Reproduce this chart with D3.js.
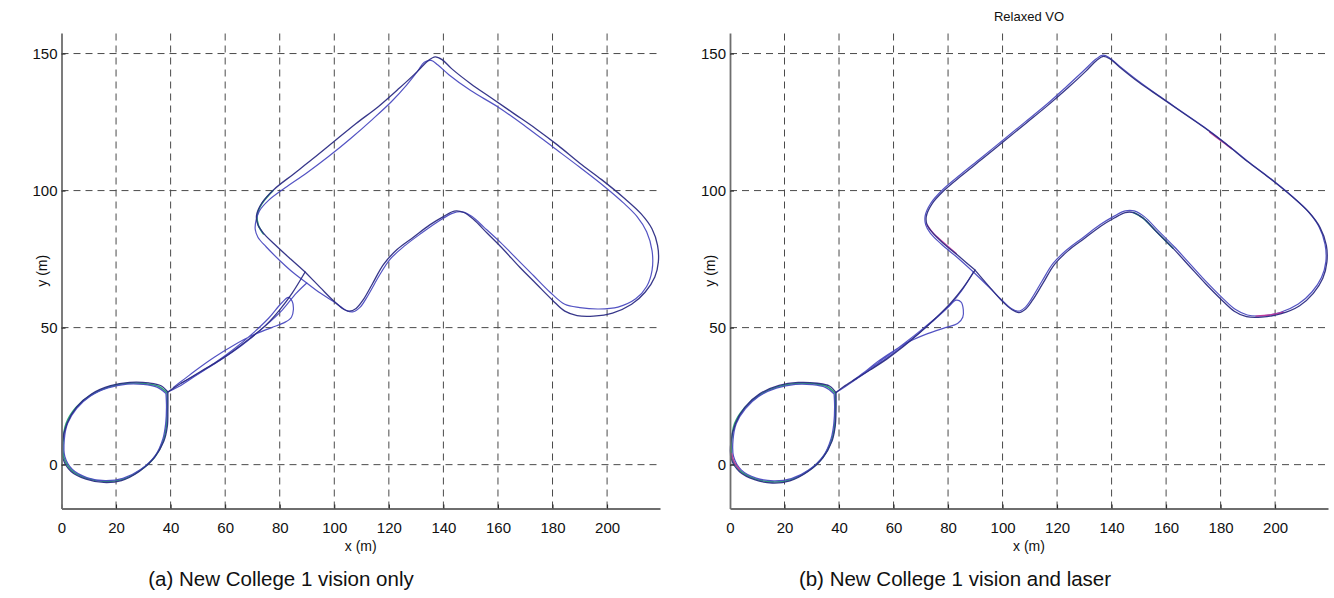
<!DOCTYPE html>
<html>
<head>
<meta charset="utf-8">
<script src="https://cdn.jsdelivr.net/npm/d3@7"></script>
<style>
  html, body { margin: 0; padding: 0; background: #fff; }
  svg { display: block; }
  text { font-family: "Liberation Sans", Arial, Helvetica, sans-serif; fill: #111; }
</style>
</head>
<body>
<svg id="chart" width="1334" height="598"></svg>
<script>
// ---- axis ticks and ranges (metres) ----
const xTicks = [0, 20, 40, 60, 80, 100, 120, 140, 160, 180, 200];
const yTicks = [0, 50, 100, 150];
const xDomain = [0, 219.4];
const yDomain = [-16, 157.5];

// ---- panel (a): vision only ----
const aEllipse1 = [[39.0,26.5],[36.5,28.8],[32,29.8],[25,30.0],[18,28.8],[11,25.8],[5.5,21],[2,15],[0.3,8],[0.6,2],[3.5,-2.5],[9,-5.3],[15.5,-6.5],[22,-5.8],[28.5,-2.5],[34,2.5],[37.5,8.5],[38.8,14],[39,20],[39,26.5]];
const aEllipse2 = [[38.3,26],[35,28.3],[30,29.3],[24,29.4],[17,28],[10.5,25],[5.5,20.5],[2.2,15],[1,9],[1.2,3],[4,-1.8],[9.5,-4.8],[16,-5.8],[22.5,-5],[29,-1.8],[34.5,3.5],[37.2,9.5],[38.2,15],[38.5,21],[38.3,26]];
const aEllipseG = [[38.7,26.2],[35.5,28.6],[31,29.5],[24.5,29.7],[17.5,28.4],[10.8,25.4],[5.3,20.8],[1.7,15],[0.6,8.5],[0.9,2.5],[3.8,-2.2],[9.2,-5],[15.8,-6.1],[22.3,-5.4],[28.8,-2.1],[34.3,3],[37.4,9],[38.5,14.5],[38.7,20.5],[38.7,26.2]];
const aCorridor1 = [[39,26.5],[41.5,28.2],[46,31],[51,34],[57,37.5],[63,41.5],[69,46],[75,51],[80,56.5],[84.5,62.5],[89.3,70.3]];
const aCorridor2 = [[39,26.5],[43,28.5],[50,33],[58,38],[66,43.5],[74,50],[81,56.5],[86,62.5],[89.9,66.3]];
const aTeardrop = [[44,29.8],[50,33.2],[56,37],[63,42],[70,47.8],[76,53.5],[80.5,58.8],[83.2,61],[84.6,59.5],[85,56.5],[84.3,53.8],[82,52],[77,50],[70,47.2],[63,43.5],[56,39.2],[50,35],[45,31.2],[41,28.2]];
const aLoop1 = [[89.3,70.3],[84,75],[78,80.5],[74,84.5],[72,87.5],[71.5,91],[73.5,95.5],[78,100.5],[85,106],[92,111.5],[100,118],[108,124.5],[116,130.5],[124,137.5],[130.5,143.5],[134.5,147.5],[137,148.8],[139.5,147.8],[143,144.5],[150,139],[158,133.5],[166,128],[174,122.5],[182,116.5],[190,110],[198,104],[206,97.5],[212.5,91.5],[216.5,86],[218.5,80],[218.8,74],[217.5,68.5],[214,63],[209,58.5],[202,55.3],[195,54.2],[189,54.4],[184.5,56],[180,60],[174,66],[168,72],[162,78.5],[156,84.5],[151,89.5],[147.5,92],[144,92.5],[140,90.5],[135,87.5],[129,83],[123,78.5],[118,73],[114,66],[110.5,60],[108,57],[105.5,56],[103,57],[99.5,60],[95,64.5],[89.3,70.3]];
const aLoop2 = [[89.9,66.3],[85,70],[80,74.5],[75,79.5],[72,83],[71,86],[71.3,89],[72.5,92.5],[76,96.5],[82,101],[90,106.5],[98,112.5],[106,119],[114,126],[121,132.5],[126.5,138.5],[130.5,143.5],[133,146.8],[135.5,147.5],[138,145.8],[142,142.3],[150,136.5],[160,130.5],[170,123.5],[180,116],[190,108.5],[199,101.5],[206,95.5],[211,90.5],[214.5,85],[216.5,78],[216.5,71],[214.5,65],[210.5,60.5],[204,57.5],[197,56.8],[190,57.3],[184.5,58.5],[179,63],[173,69],[167,75],[161,81],[155,86.5],[150.5,90.5],[147,92.2],[143.5,91.8],[138.5,89],[132,84.5],[126,80],[120.5,75],[116.5,69],[112.5,62],[109.5,57.5],[107,55.8],[104.5,56.2],[100.5,59],[95,62.5],[89.9,66.3]];
const aLoopG = [[74,84.2],[72.2,87.3],[71.7,90.8],[73.3,95],[77.5,100]];

// ---- panel (b): vision and laser ----
const bEllipse1 = [[38.9,26.3],[36.5,28.7],[32,29.7],[25,30.0],[18,28.9],[11,25.9],[5.5,21],[2,15],[0.3,8],[0.5,2],[3.5,-2.6],[9,-5.5],[15.5,-6.7],[22,-5.9],[28.5,-2.6],[34,2.4],[37.4,8.5],[38.6,14],[38.9,20],[38.9,26.3]];
const bEllipse2 = [[38.2,25.8],[35,28.2],[30,29.2],[24,29.3],[17,27.9],[10.5,24.9],[5.6,20.4],[2.3,15],[1.1,9],[1.3,3],[4.1,-1.9],[9.6,-4.9],[16,-5.9],[22.5,-5.1],[29,-1.9],[34.4,3.4],[37.1,9.5],[38.1,15],[38.4,21],[38.2,25.8]];
const bEllipseG = [[38.6,26],[35.6,28.5],[31,29.5],[24.5,29.6],[17.5,28.4],[10.8,25.4],[5.3,20.7],[1.7,15],[0.6,8.5],[0.8,2.4],[3.8,-2.3],[9.3,-5.2],[15.8,-6.3],[22.3,-5.5],[28.8,-2.2],[34.2,2.9],[37.3,9],[38.4,14.5],[38.6,20.5],[38.6,26]];
const bCorridor1 = [[38.9,26.3],[41.5,28.3],[46,31.2],[51.5,34.6],[57.5,38.5],[63.5,43],[69.5,48],[75.5,53.5],[81,59],[85.5,64.5],[89.9,71]];
const bCorridor2 = [[38.9,26.3],[42.5,28.6],[48,32.3],[54.5,36.8],[61,41.5],[67.5,46.5],[74,52],[80,57.5],[85,63.5],[89.3,70.3]];
const bTeardrop = [[46,31.2],[52,35.5],[58,39.8],[64,44.3],[70,49],[75.5,53.5],[80,57.5],[83,60],[84.8,59.3],[85.6,56.5],[85.4,53.8],[83.5,51.5],[79,50],[72.5,47.8],[66,45],[60,41.5],[54,37.5],[49,33.5],[45,30.6]];
const bLoop1 = [[89.9,71],[84,76],[78,81],[74,85],[72.3,87.5],[72,90.5],[74,95],[78.5,100],[85,105.5],[92.5,111.5],[100.5,118],[108.5,124.5],[116.5,131],[124,137.5],[130.5,143.5],[134.5,147.5],[137,149],[139.5,148],[143,145],[150,139.5],[158,134],[166,128.5],[174,123],[182,117],[190,110.5],[198,104.5],[206,98],[212.5,92],[216.5,86.5],[218.8,80],[219,74],[217.5,68],[214,62.5],[209,58],[202,55],[195,53.8],[189.5,54],[185,56],[180.5,60],[174.5,66],[168.5,72.5],[162.5,79],[156.5,85],[151.5,90],[148,92],[145,92],[141,90],[136,87],[130,82.5],[124,78],[119,73],[115,66.5],[111,60],[108.5,56.8],[106,55.5],[103.5,56.5],[100,59.5],[95.5,64.5],[89.9,71]];
const bLoop2 = [[89.3,70.3],[83.5,75.5],[77.5,80.5],[73.5,84.5],[71.8,87.5],[71.6,90.8],[73.6,95.3],[78,100.3],[84.5,105.8],[92,111.8],[100,118.3],[108,124.8],[116,131.3],[123.5,138],[130,144],[134.3,148],[136.8,149.4],[139.3,148.4],[142.8,145.5],[149.8,140],[157.8,134.3],[165.8,128.8],[173.8,123.3],[181.8,117.3],[189.8,110.8],[197.8,104.8],[205.8,98.3],[212,92.5],[216,87],[218.3,80.5],[218.6,74],[217,68.3],[213.5,63],[208.5,58.6],[201.8,55.5],[195,54.3],[189.8,54.6],[185.5,56.6],[181,60.5],[175,66.5],[169,73],[163,79.5],[157,85.5],[152,90.5],[148.3,92.6],[145,92.6],[140.8,90.6],[135.7,87.5],[129.7,83],[123.7,78.5],[118.6,73.5],[114.5,67],[110.6,60.5],[108.2,57.3],[105.8,56],[103.2,57],[99.6,60.2],[95,64.8],[89.3,70.3]];
const bLoopG = [[162.5,79],[156.5,85],[151.5,90],[148,92]];
const bMagenta1 = [[72.3,87.5],[74.5,84.5],[78,81.3],[83,77]];
const bMagenta2 = [[203,55.6],[198,54.6],[193,54.2]];
const bMagenta3 = [[176,121.3],[180,118.3],[184,115.3]];
const bMagenta4 = [[0.6,4],[1.5,1],[3.5,-1.8]];

// ---- trace styles ----
const colNavy = "#2c2c84";
const colBlue = "#4a4ac0";
const colGreen = "#23a06e";
const colMagenta = "#c2389c";

const panels = [
  {
    left: 61.5, right: 660, title: null,
    caption: "(a) New College 1 vision only", captionX: 281,
    traces: [
      { pts: aEllipseG, color: colGreen, w: 1.6 },
      { pts: aLoopG, color: colGreen, w: 1.6 },
      { pts: aEllipse2, color: colBlue, w: 1.3 },
      { pts: aCorridor2, color: colBlue, w: 1.2 },
      { pts: aTeardrop, color: colBlue, w: 1.2 },
      { pts: aLoop2, color: colBlue, w: 1.2 },
      { pts: aEllipse1, color: colNavy, w: 1.3 },
      { pts: aCorridor1, color: colNavy, w: 1.3 },
      { pts: aLoop1, color: colNavy, w: 1.3 }
    ]
  },
  {
    left: 730, right: 1328, title: "Relaxed VO",
    caption: "(b) New College 1 vision and laser", captionX: 955,
    traces: [
      { pts: bEllipseG, color: colGreen, w: 1.6 },
      { pts: bLoopG, color: colGreen, w: 1.6 },
      { pts: bEllipse2, color: colBlue, w: 1.3 },
      { pts: bCorridor2, color: colBlue, w: 1.2 },
      { pts: bTeardrop, color: colBlue, w: 1.2 },
      { pts: bLoop2, color: colBlue, w: 1.2 },
      { pts: bMagenta1, color: colMagenta, w: 1.4 },
      { pts: bMagenta2, color: colMagenta, w: 1.4 },
      { pts: bMagenta3, color: colMagenta, w: 1.4 },
      { pts: bMagenta4, color: colMagenta, w: 1.4 },
      { pts: bEllipse1, color: colNavy, w: 1.3 },
      { pts: bCorridor1, color: colNavy, w: 1.3 },
      { pts: bLoop1, color: colNavy, w: 1.3 }
    ]
  }
];

const svg = d3.select("#chart");
const plotTop = 33, plotBottom = 508.5;

panels.forEach(p => {
  const x = d3.scaleLinear().domain(xDomain).range([p.left, p.right]);
  const y = d3.scaleLinear().domain(yDomain).range([plotBottom, plotTop]);
  const g = svg.append("g");

  // dashed grid
  const grid = g.append("g")
    .attr("stroke", "#4a4a4a").attr("stroke-width", 1)
    .attr("stroke-dasharray", "7,5").attr("fill", "none");
  grid.selectAll("line.v").data(xTicks.filter(d => d > 0)).join("line")
    .attr("class", "v")
    .attr("x1", d => x(d)).attr("x2", d => x(d))
    .attr("y1", plotBottom).attr("y2", plotTop);
  grid.selectAll("line.h").data(yTicks).join("line")
    .attr("class", "h")
    .attr("x1", p.left).attr("x2", p.right)
    .attr("y1", d => y(d)).attr("y2", d => y(d));

  // trajectories
  const line = d3.line().x(d => x(d[0])).y(d => y(d[1])).curve(d3.curveCatmullRom.alpha(0.5));
  g.append("g").attr("fill", "none")
    .attr("stroke-linejoin", "round").attr("stroke-linecap", "round")
    .selectAll("path").data(p.traces).join("path")
    .attr("d", d => line(d.pts))
    .attr("stroke", d => d.color)
    .attr("stroke-width", d => d.w)
    .attr("stroke-opacity", 0.95);

  // axes
  const xAxis = d3.axisBottom(x).tickValues(xTicks).tickFormat(d3.format("d"))
    .tickSizeInner(-4).tickSizeOuter(0).tickPadding(13.5);
  const yAxis = d3.axisLeft(y).tickValues(yTicks).tickFormat(d3.format("d"))
    .tickSizeInner(-4).tickSizeOuter(0).tickPadding(4);

  const gx = g.append("g").attr("transform", `translate(0,${plotBottom})`).call(xAxis);
  const gy = g.append("g").attr("transform", `translate(${p.left},0)`).call(yAxis);
  [gx, gy].forEach(a => {
    a.select(".domain").attr("stroke", "#6e6e6e").attr("stroke-width", 1.8);
    a.selectAll(".tick line").attr("stroke", "#222").attr("stroke-width", 1);
    a.selectAll(".tick text").attr("font-size", 15)
      .attr("font-family", "'Liberation Sans', Arial, sans-serif").attr("fill", "#111");
  });

  // axis titles
  const cx = (p.left + p.right) / 2;
  g.append("text").attr("x", cx).attr("y", 551).attr("text-anchor", "middle")
    .attr("font-size", 14).text("x (m)");
  g.append("text").attr("transform", `translate(${p.left - 15},${(plotTop + plotBottom) / 2}) rotate(-90)`)
    .attr("text-anchor", "middle").attr("font-size", 14).text("y (m)");

  if (p.title) {
    g.append("text").attr("x", cx).attr("y", 21).attr("text-anchor", "middle")
      .attr("font-size", 13).text(p.title);
  }

  g.append("text").attr("x", p.captionX).attr("y", 586).attr("text-anchor", "middle")
    .attr("font-size", 20.5).text(p.caption);
});
</script>
</body>
</html>
